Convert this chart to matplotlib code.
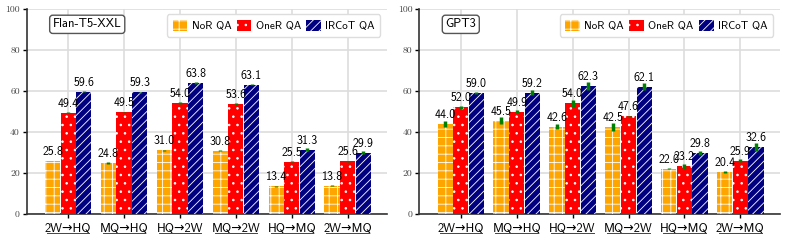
import numpy as np
import matplotlib
matplotlib.use('Agg')
import matplotlib.pyplot as plt
from matplotlib.lines import Line2D

# ==============================================================
# DADOS
# ==============================================================

categorias = ['2W→HQ', 'MQ→HQ', 'HQ→2W', 'MQ→2W', 'HQ→MQ', '2W→MQ']
series = ['NoR QA', 'OneR QA', 'IRCoT QA']

flan_nor = [25.8, 24.8, 31.0, 30.8, 13.4, 13.8]
flan_oner = [49.4, 49.5, 54.0, 53.6, 25.5, 25.6]
flan_ircot = [59.6, 59.3, 63.8, 63.1, 31.3, 29.9]
flan_nor_err = [0.2, 0.4, 0.2, 0.3, 0.2, 0.3]
flan_oner_err = [0.2, 0.2, 0.4, 0.3, 0.3, 0.4]
flan_ircot_err = [0.3, 0.3, 0.4, 0.4, 0.8, 0.8]

gpt_nor = [44.0, 45.5, 42.6, 42.5, 22.0, 20.4]
gpt_oner = [52.0, 49.9, 54.0, 47.6, 23.2, 25.9]
gpt_ircot = [59.0, 59.2, 62.3, 62.1, 29.8, 32.6]
gpt_nor_err = [1.4, 1.6, 1.2, 2.0, 0.2, 0.4]
gpt_oner_err = [0.8, 0.8, 1.7, 0.3, 1.2, 0.7]
gpt_ircot_err = [0.6, 1.3, 2.0, 1.7, 1.0, 1.8]

yticks = [0, 20, 40, 60, 80, 100]

cores = ['orange', 'red', 'navy']
hachuras = ['++', '..', '////']

plt.rcParams['hatch.color'] = 'white'
plt.rcParams['hatch.linewidth'] = 0.6
sans = ['cmss10', 'DejaVu Sans']


def painel(ax, valores, erros, titulo):
    x = np.arange(len(categorias))
    w = 0.28
    for k in range(3):
        pos = x + (k - 1) * w
        ax.bar(pos, valores[k], w * 0.97, color=cores[k], hatch=hachuras[k],
               edgecolor='white', linewidth=0, label=series[k], zorder=3)
        ax.errorbar(pos, valores[k], yerr=erros[k], fmt='none',
                    ecolor='green', elinewidth=2.5, capsize=0, zorder=4)
        for p, v in zip(pos, valores[k]):
            ax.text(p, v + 1.5, f'{v:.1f}', ha='center', va='bottom',
                    fontsize=8.5, family=sans, zorder=5)

    ax.set_ylim(0, 100)
    ax.set_xlim(-0.74, len(categorias) - 0.29)
    ax.set_yticks(yticks)
    ax.set_yticklabels([str(t) for t in yticks], family='cmr10',
                       fontsize=7, color='#444444')
    ax.set_xticks(x)
    ax.set_xticklabels(categorias, family=sans, fontsize=9)
    ax.tick_params(axis='x', length=3, width=1, pad=3)
    ax.tick_params(axis='y', length=3, width=1, pad=2)
    ax.grid(True, color='#dddddd', linewidth=1.2, zorder=0)
    ax.set_axisbelow(True)
    for s in ['top', 'right']:
        ax.spines[s].set_visible(False)
    for s in ['left', 'bottom']:
        ax.spines[s].set_linewidth(1.2)
        ax.spines[s].set_color('#333333')

    # sublinhado dos rótulos
    trans = ax.get_xaxis_transform()
    for xi in x:
        ax.add_line(Line2D([xi - 0.38, xi + 0.38], [-0.092, -0.092],
                           transform=trans, color='#444444', linewidth=0.7,
                           clip_on=False))

    ax.text(0.072, 0.925, titulo, transform=ax.transAxes, ha='left',
            va='center', fontsize=9, family=sans,
            bbox=dict(boxstyle='round,pad=0.25', fc='white', ec='#555555', lw=1))

    ax.legend(loc='upper right', ncol=3,
              prop={'family': sans, 'size': 8}, handlelength=1.3,
              handleheight=1.1, handletextpad=0.4, columnspacing=0.5,
              borderpad=0.5, borderaxespad=0.3,
              bbox_to_anchor=(0.99, 0.99), framealpha=1, edgecolor='#dddddd')


fig, axes = plt.subplots(1, 2, figsize=(7.89, 2.42), dpi=100)
plt.subplots_adjust(left=0.034, right=0.9886, top=0.963, bottom=0.116, wspace=0.089)

painel(axes[0], [flan_nor, flan_oner, flan_ircot],
       [flan_nor_err, flan_oner_err, flan_ircot_err], 'Flan-T5-XXL')
painel(axes[1], [gpt_nor, gpt_oner, gpt_ircot],
       [gpt_nor_err, gpt_oner_err, gpt_ircot_err], 'GPT3')

plt.savefig('out.png', dpi=100)
